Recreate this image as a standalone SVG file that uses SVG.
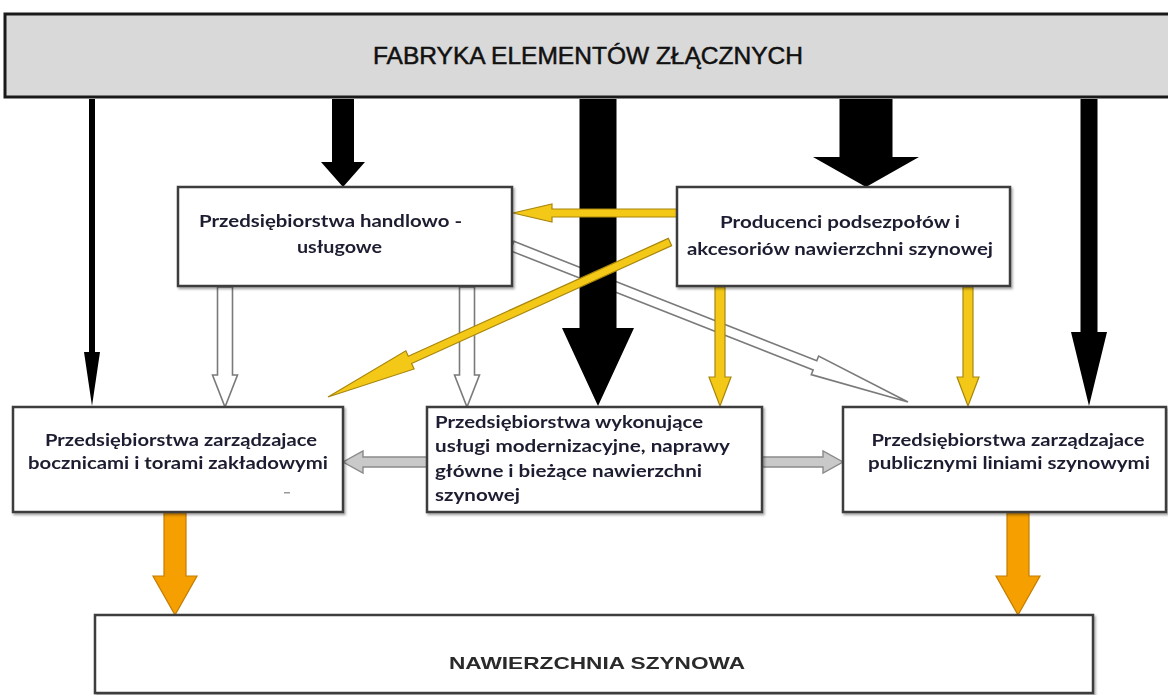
<svg xmlns="http://www.w3.org/2000/svg" width="1168" height="695" viewBox="0 0 1168 695">
<style>
  .box{fill:#ffffff;stroke:#3c3c3c;stroke-width:2.5}
  .bar{fill:#d9d9d9;stroke:#1a1a1a;stroke-width:3}
  .t{font-family:Lato,"Open Sans","DejaVu Sans",sans-serif;font-weight:700;font-size:17px;fill:#1e1e30}
  .blk{fill:#000000}
  .hol{fill:#ffffff;stroke:#7a7a7a;stroke-width:1.6}
  .yel{fill:#f4c817;stroke:#a8870c;stroke-width:1.2}
  .gry{fill:#c9c9c9;stroke:#8a8a8a;stroke-width:1.4}
  .org{fill:#f59f00;stroke:#c47d00;stroke-width:1.2}
</style>
<defs>
  <filter id="sh" x="-5%" y="-5%" width="110%" height="115%">
    <feDropShadow dx="1.5" dy="2" stdDeviation="1.2" flood-color="#000" flood-opacity="0.35"/>
  </filter>
</defs>
<rect width="1168" height="695" fill="#ffffff"/>

<g id="connectors">
  <polygon class="hol" transform="translate(512,246) rotate(21.5)" points="0,-5 325.6,-5 325.6,-10 425.6,0 325.6,10 325.6,5 0,5"/>
  <polygon class="blk" points="89,99 95,99 95,352 100,352 92,406 84,352 89,352"/>
  <polygon class="blk" points="332,99 354,99 354,162 365,162 343,187 321,162 332,162"/>
  <polygon class="blk" points="579.5,99 616.5,99 616.5,328 634,328 598,406 562,328 579.5,328"/>
  <polygon class="blk" points="839.5,99 892.5,99 892.5,157 919,157 866,187 813,157 839.5,157"/>
  <polygon class="blk" points="1080.5,99 1097.5,99 1097.5,332 1107,332 1089,406 1071,332 1080.5,332"/>
  <polygon class="hol" points="217.5,287 232.5,287 232.5,375 237.5,375 225,407 212.5,375 217.5,375"/>
  <polygon class="hol" points="459.5,287 474.5,287 474.5,375 479.5,375 467,407 454.5,375 459.5,375"/>
  <polygon class="yel" points="677,209 552,209 552,204 513,213 552,222 552,217 677,217"/>
  <polygon class="yel" transform="translate(670,242) rotate(155.62)" points="0,-4 285.5,-4 285.5,-10 375.5,0 285.5,10 285.5,4 0,4"/>
  <polygon class="yel" points="715,287 725,287 725,377 731,377 720,406 709,377 715,377"/>
  <polygon class="yel" points="963,287 973,287 973,377 979,377 968,406 957,377 963,377"/>
  <polygon class="gry" points="427,457 363,457 363,451 343,462 363,473 363,467 427,467"/>
  <polygon class="gry" points="762,457 823,457 823,451 843,462 823,473 823,467 762,467"/>
  <polygon class="org" points="164,513 186,513 186,576 197,576 175,615 153,576 164,576"/>
  <polygon class="org" points="1007,513 1029,513 1029,576 1040,576 1018,615 996,576 1007,576"/>
</g>

<g id="fabryka">
  <rect class="bar" x="5" y="14" width="1170" height="83"/>
  <text x="588" y="64" font-family="'Liberation Sans',Arial,sans-serif" font-size="24" fill="#111" stroke="#111" stroke-width="0.5" text-anchor="middle" textLength="430" lengthAdjust="spacingAndGlyphs">FABRYKA ELEMENTÓW ZŁĄCZNYCH</text>
</g>

<g id="handlowo" filter="url(#sh)">
  <rect class="box" x="178" y="187" width="334" height="99"/>
  <text class="t" x="330.5" y="227" text-anchor="middle" textLength="263" lengthAdjust="spacingAndGlyphs">Przedsiębiorstwa handlowo -</text>
  <text class="t" x="339.5" y="253" text-anchor="middle" textLength="85" lengthAdjust="spacingAndGlyphs">usługowe</text>
</g>

<g id="producenci" filter="url(#sh)">
  <rect class="box" x="677" y="187" width="333" height="99"/>
  <text class="t" x="840" y="228" text-anchor="middle" textLength="240" lengthAdjust="spacingAndGlyphs">Producenci podsezpołów i</text>
  <text class="t" x="840" y="255" text-anchor="middle" textLength="306" lengthAdjust="spacingAndGlyphs">akcesoriów nawierzchni szynowej</text>
</g>

<g id="bocznice" filter="url(#sh)">
  <rect class="box" x="13" y="407" width="330" height="105"/>
  <text class="t" x="181" y="446" text-anchor="middle" textLength="272" lengthAdjust="spacingAndGlyphs">Przedsiębiorstwa zarządzajace</text>
  <text class="t" x="178" y="469" text-anchor="middle" textLength="300" lengthAdjust="spacingAndGlyphs">bocznicami i torami zakładowymi</text>
  <rect x="284" y="492" width="6" height="1.5" fill="#9a9a9a"/>
</g>

<g id="wykonujace" filter="url(#sh)">
  <rect class="box" x="427" y="407" width="335" height="105"/>
  <text class="t" x="435" y="428" textLength="268" lengthAdjust="spacingAndGlyphs">Przedsiębiorstwa wykonujące</text>
  <text class="t" x="435" y="452" textLength="295" lengthAdjust="spacingAndGlyphs">usługi modernizacyjne, naprawy</text>
  <text class="t" x="435" y="477" textLength="267" lengthAdjust="spacingAndGlyphs">główne i bieżące nawierzchni</text>
  <text class="t" x="435" y="501" textLength="85" lengthAdjust="spacingAndGlyphs">szynowej</text>
</g>

<g id="publiczne" filter="url(#sh)">
  <rect class="box" x="843" y="407" width="323" height="105"/>
  <text class="t" x="1008" y="446" text-anchor="middle" textLength="273" lengthAdjust="spacingAndGlyphs">Przedsiębiorstwa zarządzajace</text>
  <text class="t" x="1009" y="469" text-anchor="middle" textLength="282" lengthAdjust="spacingAndGlyphs">publicznymi liniami szynowymi</text>
</g>

<g id="nawierzchnia" filter="url(#sh)">
  <rect class="box" x="95" y="615" width="998" height="78"/>
  <text x="597" y="669" font-family="'Liberation Sans',Arial,sans-serif" font-weight="700" font-size="17" fill="#2a2a2a" text-anchor="middle" textLength="296" lengthAdjust="spacingAndGlyphs">NAWIERZCHNIA SZYNOWA</text>
</g>
</svg>
